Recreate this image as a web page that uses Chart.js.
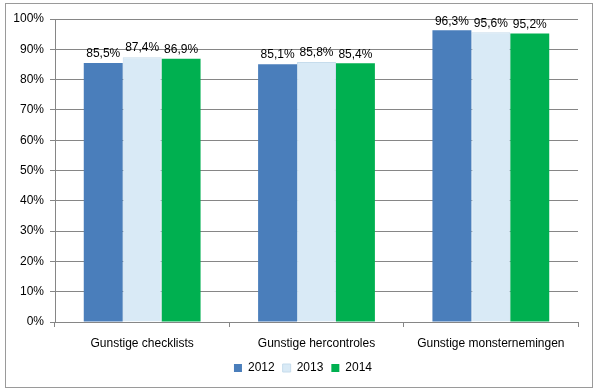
<!DOCTYPE html>
<html>
<head>
<script src="https://cdn.jsdelivr.net/npm/chart.js"></script>
<style>
  body { margin: 0; background: #fff; }
  #wrap { width: 600px; height: 392px; }
</style>
</head>
<body>
<div id="wrap"><canvas id="chart" width="600" height="392"></canvas></div>
<script>
const categories = ['Gunstige checklists', 'Gunstige hercontroles', 'Gunstige monsternemingen'];
const years = ['2012', '2013', '2014'];
const values2012 = [85.5, 85.1, 96.3];
const values2013 = [87.4, 85.8, 95.6];
const values2014 = [86.9, 85.4, 95.2];
const yTicks = [0, 10, 20, 30, 40, 50, 60, 70, 80, 90, 100];

const font = 'Liberation Sans';

// value labels above each bar, with a comma decimal
const barLabels = {
  id: 'barLabels',
  afterDatasetsDraw(chart) {
    const ctx = chart.ctx;
    ctx.save();
    ctx.font = '12px "' + font + '"';
    ctx.fillStyle = '#000';
    ctx.textAlign = 'center';
    ctx.textBaseline = 'bottom';
    chart.data.datasets.forEach((ds, i) => {
      chart.getDatasetMeta(i).data.forEach((bar, j) => {
        const txt = ds.data[j].toFixed(1).replace('.', ',') + '%';
        ctx.fillText(txt, bar.x, bar.y - 3);
      });
    });
    ctx.restore();
  }
};

// thin grey frame round the whole chart, legend nudged to the centre of the frame
const frame = {
  id: 'frame',
  afterLayout(chart) {
    chart.legend.left += 14;
    chart.legend.right += 14;
  },
  afterDraw(chart) {
    const ctx = chart.ctx;
    ctx.save();
    ctx.strokeStyle = '#9a9a9a';
    ctx.lineWidth = 1;
    ctx.strokeRect(5.5, 3.5, 587, 384);
    ctx.restore();
  }
};

new Chart(document.getElementById('chart'), {
  type: 'bar',
  data: {
    labels: categories,
    datasets: [
      { label: years[0], data: values2012, backgroundColor: '#4a7ebb', borderColor: '#4a7ebb', borderWidth: 0 },
      { label: years[1], data: values2013, backgroundColor: '#d9eaf6', borderColor: '#c6dcec', borderWidth: 1 },
      { label: years[2], data: values2014, backgroundColor: '#00b050', borderColor: '#00b050', borderWidth: 0 }
    ]
  },
  options: {
    responsive: false,
    animation: false,
    layout: { padding: { left: 0, right: 22, top: 19, bottom: 8 } },
    datasets: { bar: { categoryPercentage: 0.67, barPercentage: 1.0 } },
    scales: {
      x: {
        offset: true,
        grid: { offset: true, drawOnChartArea: false, drawTicks: true, tickLength: 5, color: '#868686' },
        border: { color: '#868686' },
        ticks: { color: '#000', font: { family: font, size: 12 }, padding: 9 },
        afterFit(scale) { scale.height = 32; }
      },
      y: {
        min: 0,
        max: 100,
        afterBuildTicks(scale) { scale.ticks = yTicks.map(v => ({ value: v })); },
        grid: { color: '#868686', tickLength: 5 },
        border: { color: '#868686' },
        ticks: { color: '#000', font: { family: font, size: 12 }, padding: 6, callback: v => v + '%' },
        afterFit(scale) { scale.width = 55; }
      }
    },
    plugins: {
      legend: {
        position: 'bottom',
        labels: { color: '#000', font: { family: font, size: 12 }, boxWidth: 8, boxHeight: 8, padding: 8 }
      },
      tooltip: { enabled: false }
    }
  },
  plugins: [barLabels, frame]
});
</script>
</body>
</html>
